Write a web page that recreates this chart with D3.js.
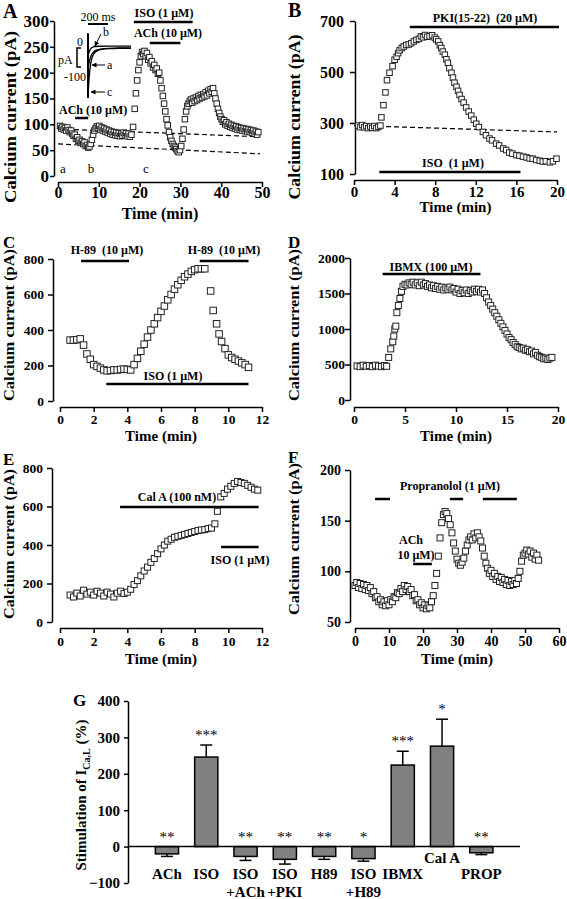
<!DOCTYPE html>
<html><head><meta charset="utf-8">
<script src="https://cdn.jsdelivr.net/npm/d3@7"></script>
<style>
body{margin:0;background:#fff}
svg{display:block}
text{font-family:"Liberation Serif","Times New Roman",serif;fill:#000;white-space:pre}
</style>
</head><body>
<svg id="fig" width="567" height="899"></svg>
<script>
// ---------------- DATA ----------------
// Panel A: [time (min), current (pA)]
const dataA = [[0.5,97],[0.8,92],[1.1,95],[1.4,90],[1.7,93],[2.0,88],[2.3,94],[2.6,89],[2.9,85],[3.2,88],[3.5,82],[3.8,78],[4.1,80],[4.4,72],[4.7,75],[5.0,68],[5.3,70],[5.6,64],[5.9,67],[6.2,62],[6.5,65],[6.8,58],[7.1,60],[7.4,55],[7.7,57],[8.0,62],[8.3,70],[8.6,80],[8.9,88],[9.2,92],[9.5,96],[9.8,93],[10.1,97],[10.4,90],[10.7,94],[11.0,88],[11.3,92],[11.6,86],[11.9,90],[12.2,84],[12.5,88],[12.8,82],[13.1,86],[13.4,80],[13.7,85],[14.0,79],[14.3,84],[14.6,78],[14.9,83],[15.2,77],[15.5,82],[15.8,78],[16.1,84],[16.4,79],[16.7,83],[17.0,77],[17.3,82],[17.6,76],[18.0,80],[18.4,95],[18.8,130],[19.1,160],[19.4,185],[19.7,205],[20.0,220],[20.3,232],[20.6,240],[20.9,236],[21.2,242],[21.5,232],[21.8,238],[22.1,225],[22.4,230],[22.7,218],[23.0,222],[23.3,210],[23.6,215],[23.9,205],[24.2,208],[24.5,198],[24.8,200],[25.1,185],[25.4,170],[25.7,155],[26.0,140],[26.3,125],[26.6,110],[26.9,98],[27.2,85],[27.5,75],[27.8,68],[28.1,62],[28.4,58],[28.7,55],[29.0,52],[29.3,48],[29.6,46],[29.9,50],[30.2,58],[30.5,72],[30.8,90],[31.1,110],[31.4,125],[31.7,135],[32.0,140],[32.3,145],[32.6,148],[32.9,142],[33.2,150],[33.5,145],[33.8,152],[34.1,147],[34.4,155],[34.7,150],[35.0,157],[35.3,152],[35.6,158],[35.9,154],[36.2,162],[36.5,156],[36.8,165],[37.1,160],[37.4,168],[37.7,163],[38.0,170],[38.3,160],[38.6,150],[38.9,140],[39.2,130],[39.5,122],[39.8,115],[40.1,110],[40.4,105],[40.7,108],[41.0,100],[41.3,104],[41.6,97],[41.9,101],[42.2,95],[42.5,99],[42.8,93],[43.1,97],[43.4,92],[43.7,96],[44.0,90],[44.3,94],[44.6,89],[44.9,93],[45.2,88],[45.5,92],[45.8,87],[46.1,91],[46.4,86],[46.7,90],[47.0,85],[47.3,89],[47.6,84],[47.9,88],[48.2,82],[48.5,86],[48.8,80],[49.1,85]];
const dashA = [[[0,91],[49.5,76]],[[0,62],[49.5,43]]];
// inset traces of panel A: [time (ms), current (pA)]
const traceA = [[0,-75],[10,-60],[20,-48],[35,-36],[55,-28],[80,-23],[120,-20],[200,-18],[300,-17],[430,-17]];
const traceB = [[0,-40],[10,-30],[20,-22],[35,-16],[60,-13],[100,-12],[200,-12],[430,-12]];
const traceC = [[0,-155],[5,-130],[10,-105],[20,-75],[30,-55],[45,-40],[60,-32],[90,-25],[130,-21],[200,-19],[300,-18],[430,-18]];

// Panel B
const dataB = [[0.4,290],[0.6,284],[0.8,292],[1.0,283],[1.2,288],[1.4,280],[1.6,286],[1.8,281],[2.0,288],[2.2,280],[2.4,285],[2.6,290],[2.7,322],[2.9,370],[3.1,420],[3.25,468],[3.5,497],[3.8,523],[4.0,548],[4.2,560],[4.35,574],[4.5,585],[4.7,594],[4.9,600],[5.15,606],[5.4,608],[5.65,613],[5.9,620],[6.15,626],[6.4,630],[6.6,640],[6.8,636],[7.0,645],[7.2,638],[7.45,640],[7.7,644],[7.95,635],[8.1,628],[8.3,620],[8.45,605],[8.6,594],[8.75,580],[8.95,568],[9.1,550],[9.25,536],[9.4,515],[9.6,497],[9.75,478],[9.9,458],[10.1,442],[10.25,426],[10.4,410],[10.6,394],[10.8,380],[11.05,361],[11.3,345],[11.55,329],[11.8,313],[12.05,297],[12.3,284],[12.7,265],[13.0,252],[13.35,239],[13.6,232],[14.0,219],[14.3,212],[14.7,200],[15.0,194],[15.3,184],[15.6,180],[16.0,174],[16.3,172],[16.65,168],[17.0,165],[17.3,161],[17.6,160],[17.95,155],[18.3,152],[18.6,149],[18.9,150],[19.3,146],[19.6,150],[19.95,160]];
const dashB = [[[0,290],[20,265]]];

// Panel C
const dataC = [[0.6,343],[0.8,343],[1.0,345],[1.2,350],[1.4,315],[1.6,265],[1.8,235],[2.0,205],[2.2,195],[2.4,185],[2.6,175],[2.8,170],[3.0,172],[3.2,175],[3.4,175],[3.6,178],[3.8,180],[4.0,178],[4.2,175],[4.4,205],[4.6,240],[4.8,280],[5.0,320],[5.2,360],[5.4,400],[5.6,435],[5.8,470],[6.0,505],[6.2,535],[6.4,570],[6.6,600],[6.8,630],[7.0,655],[7.2,680],[7.4,700],[7.6,715],[7.8,730],[8.0,740],[8.2,745],[8.4,745],[8.6,745],[8.95,620],[9.1,510],[9.3,435],[9.45,378],[9.6,335],[9.8,295],[10.0,260],[10.2,245],[10.4,235],[10.6,225],[10.8,215],[11.0,205],[11.2,190]];

// Panel D
const dataD = [[0.3,480],[0.6,470],[0.9,490],[1.2,475],[1.5,485],[1.8,470],[2.1,490],[2.4,478],[2.7,470],[3.0,485],[3.2,475],[3.4,600],[3.6,720],[3.8,820],[3.9,900],[4.0,1000],[4.1,1040],[4.2,1230],[4.35,1330],[4.5,1430],[4.65,1530],[4.8,1600],[5.0,1630],[5.2,1620],[5.4,1650],[5.6,1630],[5.8,1660],[6.0,1620],[6.2,1650],[6.4,1610],[6.6,1660],[6.8,1620],[7.0,1640],[7.2,1600],[7.4,1620],[7.6,1580],[7.8,1610],[8.0,1570],[8.2,1600],[8.4,1560],[8.6,1590],[8.8,1550],[9.0,1580],[9.2,1560],[9.4,1590],[9.6,1550],[9.8,1570],[10.0,1520],[10.2,1560],[10.4,1500],[10.6,1540],[10.8,1510],[11.0,1550],[11.2,1500],[11.4,1540],[11.6,1520],[11.8,1560],[12.0,1530],[12.2,1560],[12.4,1520],[12.6,1550],[12.8,1500],[13.0,1440],[13.2,1380],[13.4,1330],[13.6,1280],[13.8,1230],[14.0,1180],[14.2,1130],[14.4,1080],[14.6,1030],[14.8,980],[15.0,930],[15.2,880],[15.4,850],[15.6,810],[15.8,780],[16.0,750],[16.2,740],[16.4,720],[16.6,730],[16.8,700],[17.0,710],[17.2,680],[17.4,690],[17.6,650],[17.8,670],[18.0,630],[18.2,610],[18.4,600],[18.6,580],[18.8,590],[19.0,570],[19.2,590],[19.4,600]];

// Panel E
const dataE = [[0.6,140],[0.8,130],[1.0,150],[1.2,135],[1.4,165],[1.6,145],[1.8,155],[2.0,140],[2.2,160],[2.4,150],[2.6,135],[2.8,155],[3.0,145],[3.2,130],[3.4,150],[3.6,160],[3.8,148],[4.0,155],[4.2,170],[4.4,195],[4.6,215],[4.8,240],[5.0,265],[5.2,285],[5.4,310],[5.6,330],[5.8,355],[6.0,380],[6.2,400],[6.4,420],[6.6,430],[6.8,440],[7.0,445],[7.2,450],[7.4,455],[7.6,460],[7.8,465],[8.0,470],[8.2,475],[8.4,478],[8.6,480],[8.8,485],[9.0,488],[9.2,510],[9.35,575],[9.55,650],[9.75,668],[9.95,690],[10.15,705],[10.35,720],[10.55,730],[10.75,725],[10.95,720],[11.15,710],[11.35,700],[11.55,690],[11.75,685]];

// Panel F
const dataF = [[0.0,86],[0.5,89],[1.0,84],[1.5,88],[2.0,83],[2.5,87],[3.0,82],[3.5,86],[4.0,81],[4.5,84],[5.0,78],[5.5,80],[6.0,74],[6.5,75],[7.0,70],[7.5,72],[8.0,67],[8.5,70],[9.0,66],[9.5,71],[10.0,67],[10.5,72],[11.0,70],[11.5,75],[12.0,74],[12.5,79],[13.0,78],[13.5,83],[14.0,80],[14.5,86],[15.0,82],[15.5,85],[16.0,80],[16.5,82],[17.0,76],[17.5,77],[18.0,71],[18.5,72],[19.0,67],[19.5,69],[20.0,64],[20.5,67],[21.0,63],[21.5,66],[22.0,64],[22.5,70],[23.0,76],[23.5,86],[24.0,98],[24.5,115],[25.0,133],[25.5,148],[26.0,156],[26.5,159],[27.0,157],[27.5,152],[28.0,146],[28.5,138],[29.0,128],[29.5,120],[30.0,112],[30.5,108],[31.0,106],[31.5,109],[32.0,113],[32.5,120],[33.0,126],[33.5,131],[34.0,134],[34.5,131],[35.0,137],[35.5,133],[36.0,138],[36.5,134],[37.0,130],[37.5,123],[38.0,115],[38.5,108],[39.0,103],[39.5,98],[40.0,101],[40.5,95],[41.0,98],[41.5,92],[42.0,95],[42.5,90],[43.0,94],[43.5,89],[44.0,92],[44.5,87],[45.0,91],[45.5,86],[46.0,90],[46.5,87],[47.0,91],[47.5,88],[48.0,93],[48.5,100],[49.0,110],[49.5,116],[50.0,118],[50.5,121],[51.0,117],[51.5,120],[52.0,114],[52.5,118],[53.0,112],[53.5,116],[54.0,111]];

// Panel G
const catsG = ["ACh","ISO","ISO\n+ACh","ISO\n+PKI","H89","ISO\n+H89","IBMX","Cal A","PROP"];
const meanG = [-20, 246, -27, -35, -27, -33, 224, 276, -17];
const errG  = [7, 33, 11, 13, 8, 7, 38, 74, 5];
const sigG  = ["**","***","**","**","**","*","***","*","**"];

// tick values
const ticksAy = [0,50,100,150,200,250,300], ticksAx = [0,10,20,30,40,50];
const ticksBy = [100,300,500,700], ticksBx = [0,4,8,12,16,20];
const ticksCy = [0,200,400,600,800], ticksCx = [0,2,4,6,8,10,12];
const ticksDy = [0,500,1000,1500,2000], ticksDx = [0,5,10,15,20];
const ticksEy = [0,200,400,600,800], ticksEx = [0,2,4,6,8,10,12];
const ticksFy = [50,100,150,200], ticksFx = [0,10,20,30,40,50,60];
const ticksGy = [-100,0,100,200,300,400];

// drug application bars: [start, end] (min)
const barsA = [[4.2,7.4],[18.6,33.0],[22.5,30.0]];
const barsB = [[5.5,20.2],[2.5,16.4]];
const barsC = [[1.25,4.1],[8.3,11.2],[2.75,11.2]];
const barsD = [[2.8,12.4]];
const barsE = [[3.57,11.8],[9.57,11.8]];
const barsF = [[5.9,10.3],[27.9,31.8],[37.6,47.6],[17.1,22.6]];

// ---------------- DRAWING ----------------
const svg = d3.select("#fig");
const FONT = '"Liberation Serif","Times New Roman",serif';

svg.append("defs").append("marker").attr("id","arr").attr("viewBox","0 0 10 10")
  .attr("refX",9).attr("refY",5).attr("markerWidth",5).attr("markerHeight",5).attr("orient","auto")
  .append("path").attr("d","M0,0 L10,5 L0,10 z").attr("fill","#000");

function txt(g, x, y, s, fs, opt={}) {
  return g.append("text").attr("x",x).attr("y",y).attr("font-size",fs)
    .attr("font-weight", opt.normal ? "normal" : "bold")
    .attr("text-anchor", opt.anchor || "middle").text(s);
}

function panel(p) {
  const g = svg.append("g");
  const x = d3.scaleLinear().domain(p.xd).range(p.xr);
  const y = d3.scaleLinear().domain(p.yd).range(p.yr);
  const ya = g.append("g").attr("transform",`translate(${p.ax},0)`)
    .call(d3.axisLeft(y).tickValues(p.yt).tickSize(p.tsy).tickSizeOuter(0).tickPadding(p.pady).tickFormat(d3.format("d")));
  const xa = g.append("g").attr("transform",`translate(0,${p.ay})`)
    .call(d3.axisBottom(x).tickValues(p.xt).tickSize(5).tickSizeOuter(0).tickPadding(p.padx).tickFormat(d3.format("d")));
  [ya,xa].forEach(a=>{
    a.selectAll("path,line").attr("stroke","#000").attr("stroke-width",1.5);
    a.selectAll("text").attr("font-weight","bold").attr("font-family",FONT).attr("fill","#000");
  });
  ya.selectAll("text").attr("font-size",p.fs);
  xa.selectAll("text").attr("font-size",p.fsx || p.fs);
  txt(g,(p.xr[0]+p.xr[1])/2,p.tY,"Time (min)",p.tfs);
  g.append("text").attr("transform",`translate(${p.yTx},${p.yTy}) rotate(-90)`)
    .attr("text-anchor","middle").attr("font-size",p.yfs).attr("font-weight","bold")
    .attr("textLength",p.yLen).attr("lengthAdjust","spacingAndGlyphs").text("Calcium current (pA)");
  txt(g,p.lx,p.ly,p.letter,p.lfs,{anchor:"start"});
  // dashed reference lines
  (p.dash||[]).forEach(seg=>{
    g.append("path").attr("d",d3.line().x(d=>x(d[0])).y(d=>y(d[1]))(seg))
      .attr("stroke","#000").attr("stroke-width",1.2).attr("stroke-dasharray","5,3").attr("fill","none");
  });
  // drug bars
  p.bars.forEach((b,i)=>{
    g.append("line").attr("x1",x(b[0])).attr("x2",x(b[1])).attr("y1",p.barY[i]).attr("y2",p.barY[i])
      .attr("stroke","#000").attr("stroke-width",2.5);
  });
  // data squares
  const s = p.sq;
  g.selectAll("rect.pt").data(p.data).join("rect").attr("class","pt")
    .attr("x",d=>x(d[0])-s/2).attr("y",d=>y(d[1])-s/2).attr("width",s).attr("height",s)
    .attr("fill","#fff").attr("stroke","#222").attr("stroke-width",1);
  return {g,x,y};
}

// ---- Panel A ----
const A = panel({xd:[0,50],xr:[58,262],yd:[0,300],yr:[176,21],ax:54,ay:182,yt:ticksAy,xt:ticksAx,
  tsy:4,pady:1,padx:0,fs:17,fsx:16,tY:219,tfs:16,yTx:16,yTy:117,yfs:17,yLen:172,letter:"A",lx:3,ly:18,lfs:20,
  dash:dashA,bars:barsA,barY:[118,22,43],data:dataA,sq:5.5});
txt(A.g,59,114,"ACh (10 µM)",12,{anchor:"start"});
txt(A.g,164,17,"ISO (1 µM)",12);
txt(A.g,168,37,"ACh (10 µM)",12);
txt(A.g,63,173,"a",13,{normal:true});
txt(A.g,91,173,"b",13,{normal:true});
txt(A.g,146,173,"c",13,{normal:true});
// inset
const inX = d3.scaleLinear().domain([0,430]).range([88,131]);
const inY = d3.scaleLinear().domain([0,-100]).range([42,77]);
A.g.append("line").attr("x1",inX(0)).attr("x2",inX(0)).attr("y1",inY(25)).attr("y2",inY(-160)).attr("stroke","#000").attr("stroke-width",2);
[traceA,traceB,traceC].forEach(tr=>{
  A.g.append("path").attr("d",d3.line().curve(d3.curveBasis).x(d=>inX(d[0])).y(d=>inY(d[1]))(tr))
    .attr("fill","none").attr("stroke","#000").attr("stroke-width",1.3);
});
A.g.append("line").attr("x1",inX(0)).attr("x2",inX(200)).attr("y1",24).attr("y2",24).attr("stroke","#000").attr("stroke-width",2);
txt(A.g,98,21,"200 ms",12,{normal:true});
txt(A.g,83,46,"0",12,{normal:true,anchor:"end"});
txt(A.g,86,81,"-100",12,{normal:true,anchor:"end"});
txt(A.g,58,64,"pA",12,{normal:true,anchor:"start"});
A.g.append("path").attr("d","M81,48 L77,48 L77,67 L81,67").attr("fill","none").attr("stroke","#000").attr("stroke-width",1.5);
A.g.append("line").attr("x1",101).attr("y1",34).attr("x2",95).attr("y2",46).attr("stroke","#000").attr("stroke-width",1).attr("marker-end","url(#arr)");
A.g.append("line").attr("x1",105).attr("y1",65).attr("x2",92).attr("y2",65).attr("stroke","#000").attr("stroke-width",1).attr("marker-end","url(#arr)");
A.g.append("line").attr("x1",105).attr("y1",92).attr("x2",91).attr("y2",92).attr("stroke","#000").attr("stroke-width",1).attr("marker-end","url(#arr)");
txt(A.g,103,36,"b",12,{normal:true,anchor:"start"});
txt(A.g,107,69,"a",12,{normal:true,anchor:"start"});
txt(A.g,107,96,"c",12,{normal:true,anchor:"start"});

// ---- Panel B ----
const B = panel({xd:[0,20],xr:[354,557],yd:[100,700],yr:[174,21],ax:355,ay:180,yt:ticksBy,xt:ticksBx,
  tsy:5,pady:6,padx:1,fs:16,fsx:15,tY:212,tfs:15,yTx:300,yTy:117,yfs:17,yLen:165,letter:"B",lx:288,ly:17,lfs:20,
  dash:dashB,bars:barsB,barY:[27,172],data:dataB,sq:5.5});
txt(B.g,485,22,"PKI(15-22)  (20 µM)",12);
txt(B.g,453,167,"ISO  (1 µM)",12);

// ---- Panel C ----
const C = panel({xd:[0,12],xr:[60,262],yd:[0,800],yr:[401,259],ax:53,ay:407,yt:ticksCy,xt:ticksCx,
  tsy:5,pady:4,padx:2,fs:13.5,tY:441,tfs:15,yTx:14,yTy:325,yfs:15.5,yLen:152,letter:"C",lx:3,ly:248,lfs:17,
  bars:barsC,barY:[261,261,384],data:dataC,sq:6.5});
txt(C.g,107,254,"H-89  (10 µM)",12);
txt(C.g,224,254,"H-89  (10 µM)",12);
txt(C.g,173,380,"ISO (1 µM)",12);

// ---- Panel D ----
const D = panel({xd:[0,20],xr:[354,558],yd:[0,2000],yr:[400,258],ax:350,ay:407,yt:ticksDy,xt:ticksDx,
  tsy:5,pady:0,padx:2,fs:13.5,tY:441,tfs:15,yTx:299,yTy:325,yfs:15.5,yLen:152,letter:"D",lx:288,ly:248,lfs:17,
  bars:barsD,barY:[274],data:dataD,sq:6});
txt(D.g,431,271,"IBMX (100 µM)",12);

// ---- Panel E ----
const E = panel({xd:[0,12],xr:[60,262],yd:[0,800],yr:[622,468],ax:52,ay:628,yt:ticksEy,xt:ticksEx,
  tsy:5,pady:4,padx:3,fs:13.5,tY:664,tfs:15,yTx:14,yTy:544,yfs:15.5,yLen:150,letter:"E",lx:3,ly:465,lfs:17,
  bars:barsE,barY:[507,547],data:dataE,sq:6});
txt(E.g,177,501,"Cal A (100 nM)",12);
txt(E.g,240,564,"ISO (1 µM)",12);

// ---- Panel F ----
const F = panel({xd:[0,60],xr:[355,559],yd:[50,200],yr:[622,470],ax:350,ay:628,yt:ticksFy,xt:ticksFx,
  tsy:5,pady:4,padx:3,fs:14,tY:664,tfs:15,yTx:299,yTy:539,yfs:15.5,yLen:152,letter:"F",lx:288,ly:463,lfs:17,
  bars:barsF,barY:[499,499,499,564],data:dataF,sq:6});
txt(F.g,450,490,"Propranolol (1 µM)",12);
txt(F.g,411,544,"ACh",12);
txt(F.g,416,559,"10 µM)",12);

// ---- Panel G ----
(function(){
  const g = svg.append("g");
  const x = d3.scaleBand().domain(catsG).range([147.3,501]).paddingInner(0.41).paddingOuter(0.205);
  const y = d3.scaleLinear().domain([-100,400]).range([883,701]);
  const ya = g.append("g").attr("transform","translate(128,0)")
    .call(d3.axisLeft(y).tickValues(ticksGy).tickSize(4).tickSizeOuter(0).tickPadding(4));
  ya.selectAll("path,line").attr("stroke","#000").attr("stroke-width",1.5);
  ya.selectAll("text").attr("font-size",15).attr("font-weight","bold").attr("font-family",FONT).attr("fill","#000");
  // bars
  catsG.forEach((c,i)=>{
    const m = meanG[i], e = errG[i];
    const x0 = x(c), w = x.bandwidth(), cx = x0 + w/2;
    const tip = m >= 0 ? m + e : m - e;
    g.append("line").attr("x1",cx).attr("x2",cx).attr("y1",y(m)).attr("y2",y(tip)).attr("stroke","#000").attr("stroke-width",1.5);
    g.append("line").attr("x1",cx-6).attr("x2",cx+6).attr("y1",y(tip)).attr("y2",y(tip)).attr("stroke","#000").attr("stroke-width",1.5);
    g.append("rect").attr("x",x0).attr("width",w).attr("y",y(Math.max(0,m))).attr("height",Math.abs(y(m)-y(0)))
      .attr("fill","#808080").attr("stroke","#000").attr("stroke-width",1.5);
    const sy = y(Math.max(0, m >= 0 ? tip : 0)) - 5;
    g.append("text").attr("x",cx).attr("y",sy).attr("text-anchor","middle")
      .attr("font-size",15).attr("font-weight","normal").attr("fill","#444").text(sigG[i]);
    const lines = c.split("\n");
    const ly = c === "Cal A" ? 863 : 879;
    lines.forEach((t,k)=>{
      g.append("text").attr("x",cx).attr("y",ly + k*18).attr("text-anchor","middle")
        .attr("font-size",15).attr("font-weight","bold").text(t);
    });
  });
  g.append("line").attr("x1",128).attr("x2",520).attr("y1",y(0)).attr("y2",y(0)).attr("stroke","#000").attr("stroke-width",1.5);
  const yl = g.append("text").attr("transform","translate(86,795) rotate(-90)").attr("text-anchor","middle")
    .attr("font-size",15).attr("font-weight","bold");
  yl.append("tspan").text("Stimulation of I");
  yl.append("tspan").attr("font-size",10).attr("dy",4).text("Ca,L");
  yl.append("tspan").attr("dy",-4).text(" (%)");
  txt(g,73,706,"G",17,{anchor:"start"});
})();
</script>
</body></html>
